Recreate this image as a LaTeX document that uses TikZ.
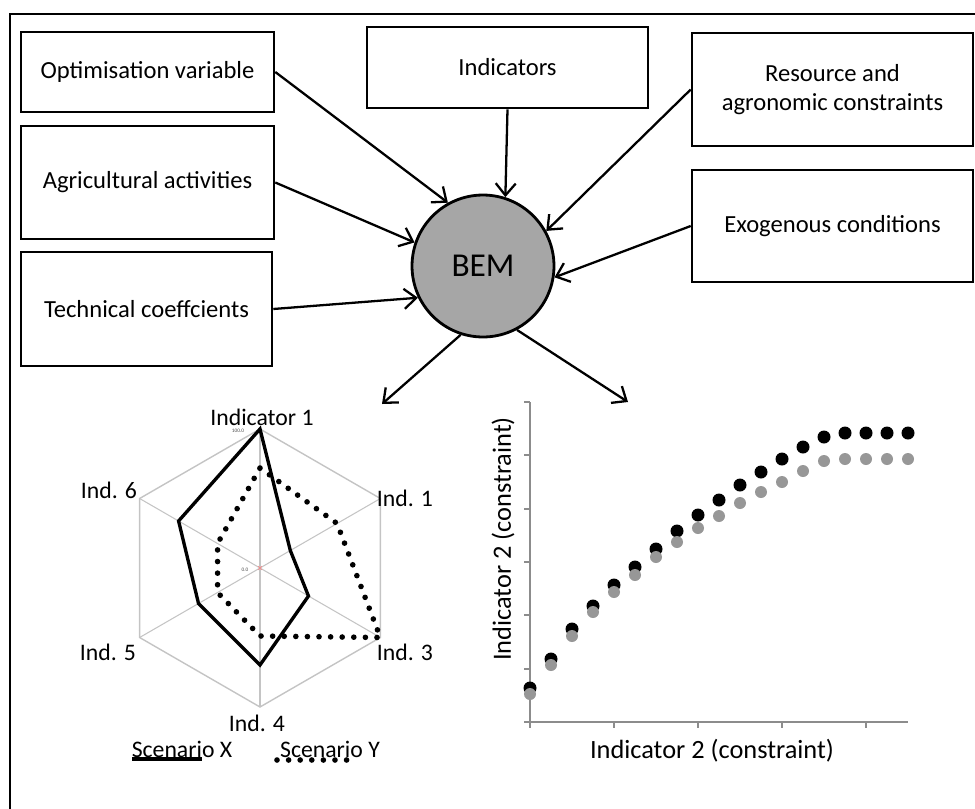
\documentclass[tikz,border=0pt]{standalone}
\usepackage{fontspec}
\setmainfont{Carlito}
\usetikzlibrary{arrows.meta,positioning}
\definecolor{bemfill}{HTML}{A6A6A6}
\definecolor{gridc}{HTML}{C4C4C4}
\definecolor{dotg}{HTML}{979797}
\definecolor{axisc}{HTML}{8C8C8C}
\tikzset{
  ar/.style={-{Straight Barb[length=2.4mm,width=4mm]},line width=1.3pt},
  box/.style={draw,line width=1.5pt,align=center,inner sep=2pt,font=\fontsize{14}{16.5}\selectfont},
  lbl/.style={inner sep=1pt,font=\fontsize{13.5}{16}\selectfont},
  axlbl/.style={inner sep=1pt,font=\fontsize{15}{18}\selectfont},
  tiny/.style={inner sep=0pt,text=black!70,font=\fontsize{3}{3}\selectfont},
  scenx/.style={line width=1.9pt},
  sceny/.style={line width=3.2pt,line cap=round,dash pattern=on 0pt off 6.6pt}
}
\begin{document}
\begin{tikzpicture}[x=0.02cm,y=-0.02cm]
\useasboundingbox (0,0) rectangle (975,809);
\draw[line width=1.1pt] (10,830) |- (990,14);
% inputs
\node[box,minimum width=5.06cm,minimum height=1.6cm] (opt) at (147.5,72) {Optimisation variable};
\node[box,minimum width=5.06cm,minimum height=2.26cm] (agri) at (147.5,182.5) {Agricultural activities};
\node[box,minimum width=5.02cm,minimum height=2.28cm] (tech) at (146.5,309) {Technical coeffcients};
\node[box,minimum width=5.62cm,minimum height=1.62cm] (ind) at (507.5,67.5) {Indicators};
\node[box,minimum width=5.62cm,minimum height=2.26cm] (res) at (832.5,89.5) {Resource and\\agronomic constraints};
\node[box,minimum width=5.62cm,minimum height=2.24cm] (exo) at (832.5,226) {Exogenous conditions};
\node[circle,draw,line width=1.6pt,fill=bemfill,minimum size=2.84cm,inner sep=0pt,font=\fontsize{19}{22}\selectfont] (bem) at (483,266) {BEM};
\draw[ar] (opt.east) -- (bem.119);
\draw[ar] (agri.east) -- (bem.161);
\draw[ar] (tech.east) -- (bem.206);
\draw[ar] (ind.south) -- (bem.72);
\draw[ar] (res.west) -- (bem.29);
\draw[ar] (exo.west) -- (bem.-9);
\coordinate (radarin) at (382,404);
\coordinate (scatin) at (628,402);
\draw[ar] (bem.252) -- (radarin);
\draw[ar] (bem.298) -- (scatin);
% radar chart
\begin{scope}[shift={(260,568)}]
  \foreach \a in {-90,-30,30,90,150,210}
    \draw[gridc,line width=0.6pt] (0,0) -- (\a:139);
  \draw[gridc,line width=0.8pt] (-90:139) -- (-30:139) -- (30:139) -- (90:139) -- (150:139) -- (210:139) -- cycle;
  \draw[red!50,line width=0.3pt] (-2,-2) -- (2,2) (-2,2) -- (2,-2);
  \node[tiny] (top) at (-22,-137) {100.0};
  \node[tiny] (zero) at (-15,2) {0.0};
  \draw[scenx] (-90:139) -- (-30:35) -- (30:56) -- (90:97) -- (150:71) -- (210:94) -- cycle;
  \draw[sceny] (-90:100) -- (-30:89) -- (30:139) -- (90:68) -- (150:49) -- (210:49) -- cycle;
\end{scope}
\node[lbl] (i1) at (262,417) {Indicator 1};
\node[lbl] (i2) at (405,498) {Ind. 1};
\node[lbl] (i3) at (405,652) {Ind. 3};
\node[lbl] (i4) at (257,723) {Ind. 4};
\node[lbl] (i5) at (108,652) {Ind. 5};
\node[lbl] (i6) at (109,490) {Ind. 6};
\node[lbl] (scx) at (182,749) {Scenario X};
\node[lbl] (scy) at (330,749) {Scenario Y};
\draw[scenx] (132,759) -- (202,759);
\draw[sceny] (277,760) -- (357,760);
% scatter chart
\draw[axisc,line width=1pt] (530,402) -- (530,722) -- (908,722);
\foreach \t in {0,...,6}
  \draw[axisc,line width=1pt] (524,402+53.33*\t) -- (530,402+53.33*\t);
\foreach \t in {0,...,4}
  \draw[axisc,line width=1pt] (530+84*\t,722) -- (530+84*\t,728);
\foreach \yb/\yg [count=\i from 0] in {688/694,659/665,629/636,606/612,585/592,567/575,549/557,531/542,515/528,500/516,485/503,472/492,459/482,447/471,437/461,433/459,433/459,433/459,433/459}{
  \fill (530+21*\i,\yb) circle (6.5);
  \fill[dotg] (530+21*\i,\yg) circle (6);
}
\node[axlbl,rotate=90] (ylab) at (503,539) {Indicator 2 (constraint)};
\node[axlbl] (xlab) at (712,751) {Indicator 2 (constraint)};
\end{tikzpicture}
\end{document}
